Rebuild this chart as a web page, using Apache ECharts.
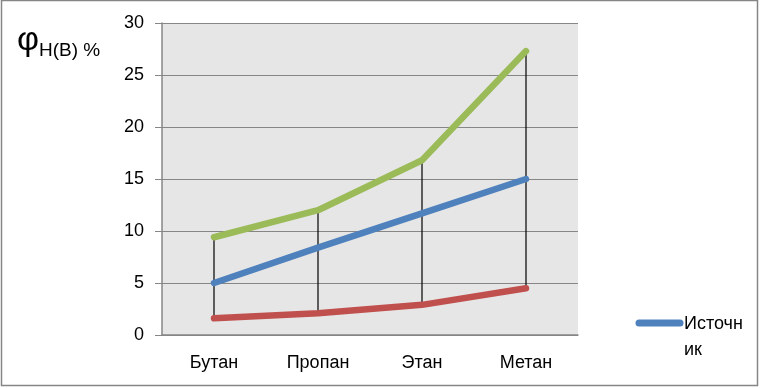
<!DOCTYPE html>
<html><head><meta charset="utf-8">
<script src="https://cdn.jsdelivr.net/npm/echarts@6/dist/echarts.min.js"></script>
<style>html,body{margin:0;padding:0;background:#fff}#c{width:760px;height:388px}</style>
</head><body><div id="c"></div>
<script>
const categories = ['Бутан', 'Пропан', 'Этан', 'Метан'];
const upperValues = [9.4, 12.0, 16.8, 27.3];
const sourceValues = [5.0, 8.4, 11.7, 15.0];
const lowerValues = [1.6, 2.1, 2.9, 4.5];
const yTicks = [0, 5, 10, 15, 20, 25, 30];
const legendName = 'Источник';

const font = 'Liberation Sans';
const chart = echarts.init(document.getElementById('c'));
chart.setOption({
  animation: false,
  textStyle: { fontFamily: font },
  grid: { left: 162, right: 182, top: 23, bottom: 53, show: true, backgroundColor: '#e6e6e6', borderWidth: 0 },
  xAxis: {
    type: 'category', data: categories, boundaryGap: true,
    axisLine: { lineStyle: { color: '#868686', width: 1.5 } },
    axisTick: { show: false },
    axisLabel: { color: '#000', fontSize: 18, fontFamily: font, margin: 19 }
  },
  yAxis: {
    type: 'value', min: 0, max: 30, interval: 5,
    axisLine: { show: true, lineStyle: { color: '#868686', width: 1.5 } },
    axisTick: { show: true, inside: false, length: 7, lineStyle: { color: '#868686' } },
    splitLine: { lineStyle: { color: '#868686', width: 1.2 } },
    axisLabel: { color: '#000', fontSize: 18, fontFamily: font, margin: 18,
      formatter: v => yTicks.includes(v) ? String(v) : '' }
  },
  graphic: [
    { type: 'rect', shape: { x: 1.5, y: 0.5, width: 756, height: 385 }, style: { fill: 'none', stroke: '#868686', lineWidth: 1.5 }, z: 100 },
    { type: 'text', left: 17, top: 24, style: {
      text: '{a|φ}{b|Н(В) %}',
      rich: { a: { fontSize: 34, fontFamily: font, fill: '#000' },
              b: { fontSize: 19, fontFamily: font, fill: '#000', padding: [20, 0, 0, 0] } } } },
    { type: 'line', shape: { x1: 639, y1: 323, x2: 680, y2: 323 }, style: { stroke: '#4f81bd', lineWidth: 7, lineCap: 'round' } },
    { type: 'text', left: 684, top: 311, style: { text: legendName.slice(0, 6) + '\n' + legendName.slice(6), fontSize: 18, lineHeight: 26, fontFamily: font, fill: '#000' } }
  ],
  series: [
    {
      type: 'custom', name: 'range', z: 1,
      renderItem: (params, api) => {
        const i = api.value(0);
        const p1 = api.coord([i, api.value(1)]);
        const p2 = api.coord([i, api.value(2)]);
        return { type: 'line', shape: { x1: p1[0], y1: p1[1], x2: p2[0], y2: p2[1] }, style: { stroke: '#000', lineWidth: 1.2 } };
      },
      data: categories.map((c, i) => [i, lowerValues[i], upperValues[i]])
    },
    { type: 'line', name: 'upper', data: upperValues, showSymbol: false, z: 3,
      lineStyle: { color: '#9bbb59', width: 6.5, cap: 'round', join: 'round' }, itemStyle: { color: '#9bbb59' } },
    { type: 'line', name: legendName, data: sourceValues, showSymbol: false, z: 3,
      lineStyle: { color: '#4f81bd', width: 6.5, cap: 'round', join: 'round' }, itemStyle: { color: '#4f81bd' } },
    { type: 'line', name: 'lower', data: lowerValues, showSymbol: false, z: 3,
      lineStyle: { color: '#c0504d', width: 6.5, cap: 'round', join: 'round' }, itemStyle: { color: '#c0504d' } }
  ]
});
</script></body></html>
